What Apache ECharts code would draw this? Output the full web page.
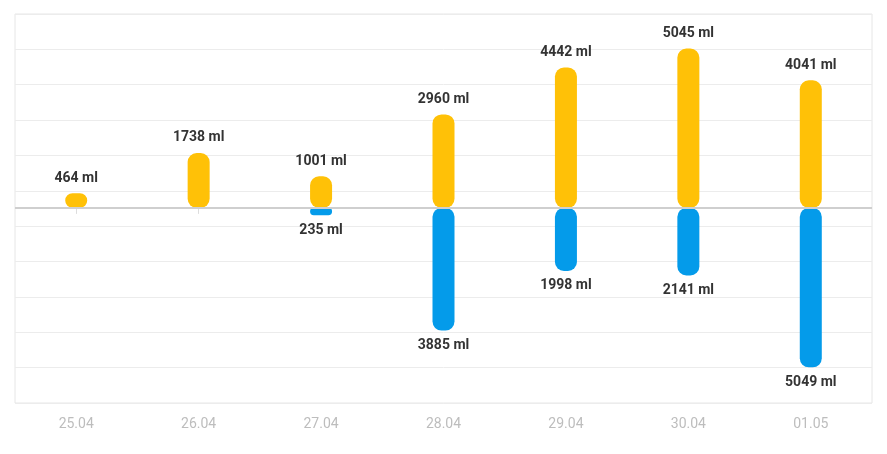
<!DOCTYPE html>
<html><head><meta charset="utf-8">
<script src="https://cdn.jsdelivr.net/npm/echarts@6/dist/echarts.min.js"></script>
<style>html,body{margin:0;background:#fff}#c{width:887px;height:454px}</style>
</head><body><div id="c"></div>
<script>
var days = ['25.04','26.04','27.04','28.04','29.04','30.04','01.05'];
var intake = [464, 1738, 1001, 2960, 4442, 5045, 4041];
var output = [null, null, -235, -3885, -1998, -2141, -5049];

var half = [];
for (var i = 0; i < 14; i++) half.push(i);

var lbl = function(p){ return Math.abs(p.value) + ' ml'; };
var chart = echarts.init(document.getElementById('c'));
chart.setOption({
    animation: false,
    grid: {left: 15, right: 15, top: 14, bottom: 51, show: true, borderColor: '#e6e6e6', borderWidth: 1},
    xAxis: [{
        type: 'category',
        data: days,
        axisLine: {show: false},
        axisTick: {show: true, alignWithLabel: true, length: 6, lineStyle: {color: '#ddd'}},
        axisLabel: {color: '#bdbdbd', fontSize: 14, margin: 14, fontFamily: 'Roboto'},
        splitLine: {show: false}
    }, {
        type: 'category',
        data: half,
        show: false,
        axisLine: {show: false},
        axisTick: {show: false},
        axisLabel: {show: false},
        splitLine: {show: true, interval: function(idx){ return idx % 2 === 1; }, lineStyle: {color: '#ececec'}}
    }],
    yAxis: {
        type: 'value',
        min: -6180, max: 6140, interval: 1120,
        axisLabel: {show: false},
        axisLine: {show: false},
        axisTick: {show: false},
        splitLine: {lineStyle: {color: '#ececec'}}
    },
    series: [{
        type: 'bar', stack: 'a', data: intake, barWidth: 22,
        itemStyle: {color: '#FFC107', borderRadius: 9},
        label: {show: true, position: 'top', formatter: lbl, color: '#333', fontWeight: 'bold', fontSize: 14, distance: 8, fontFamily: 'Roboto'},
        markLine: {silent: true, symbol: 'none', label: {show: false}, lineStyle: {color: '#cfcfcf', width: 2, type: 'solid'}, data: [{yAxis: 0}]}
    }, {
        type: 'bar', stack: 'a', data: output, barWidth: 22,
        itemStyle: {color: '#049BEA', borderRadius: 9},
        label: {show: true, position: 'bottom', formatter: lbl, color: '#333', fontWeight: 'bold', fontSize: 14, distance: 8, fontFamily: 'Roboto'}
    }]
});
</script></body></html>
